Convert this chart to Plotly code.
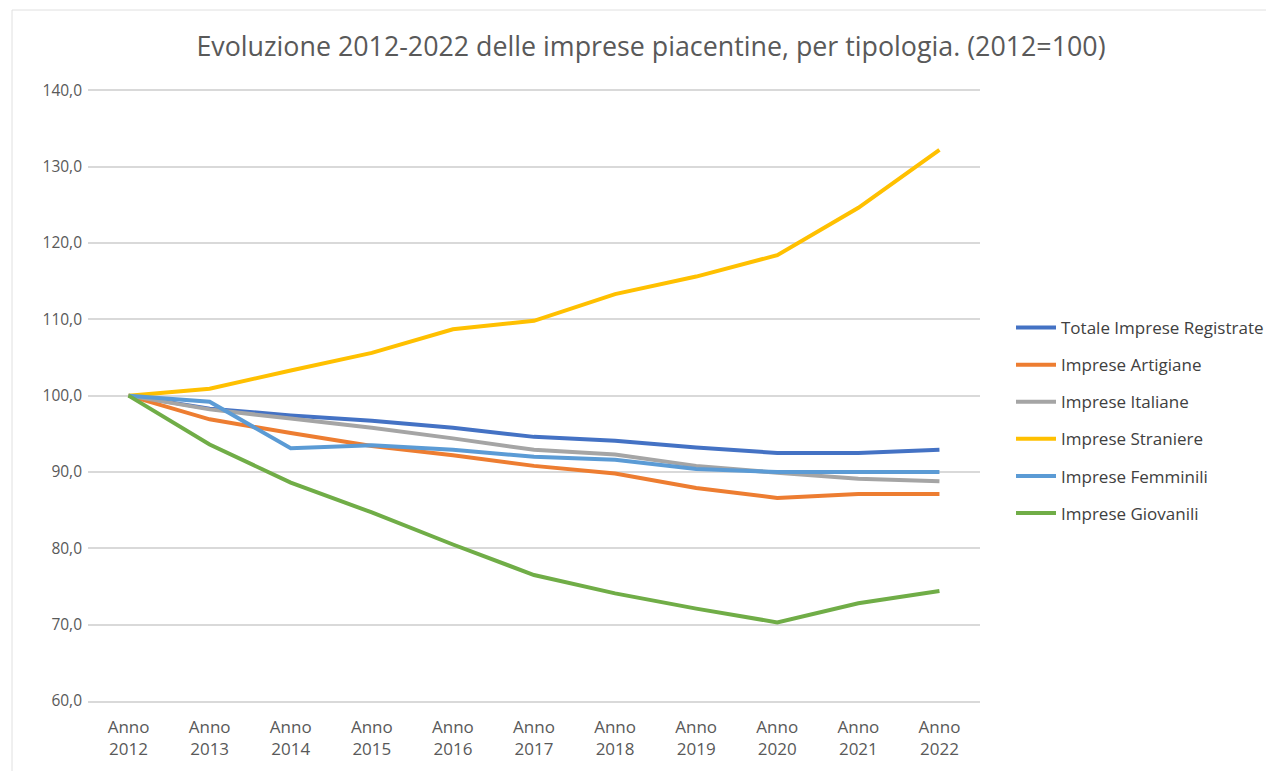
import plotly.graph_objects as go

# ── Data (2012 = 100) ─────────────────────────────────────────────────────
years = ["Anno<br>2012", "Anno<br>2013", "Anno<br>2014", "Anno<br>2015", "Anno<br>2016", "Anno<br>2017",
         "Anno<br>2018", "Anno<br>2019", "Anno<br>2020", "Anno<br>2021", "Anno<br>2022"]

totale = [100.0, 98.3, 97.4, 96.7, 95.8, 94.6, 94.1, 93.2, 92.5, 92.5, 92.9]
artigiane = [100.0, 96.9, 95.1, 93.4, 92.2, 90.8, 89.8, 87.9, 86.6, 87.1, 87.1]
italiane = [100.0, 98.2, 97.0, 95.8, 94.4, 92.9, 92.3, 90.8, 89.9, 89.1, 88.8]
straniere = [100.0, 100.9, 103.3, 105.6, 108.7, 109.8, 113.3, 115.6, 118.4, 124.6, 132.2]
femminili = [100.0, 99.2, 93.1, 93.5, 92.9, 92.0, 91.6, 90.4, 90.0, 90.0, 90.0]
giovanili = [100.0, 93.6, 88.6, 84.7, 80.5, 76.5, 74.1, 72.1, 70.3, 72.8, 74.4]

y_ticks = [60, 70, 80, 90, 100, 110, 120, 130, 140]

SERIES = [
    ("Totale Imprese Registrate", totale, "#4472C4"),
    ("Imprese Artigiane", artigiane, "#ED7D31"),
    ("Imprese Italiane", italiane, "#A5A5A5"),
    ("Imprese Straniere", straniere, "#FFC000"),
    ("Imprese Femminili", femminili, "#5B9BD5"),
    ("Imprese Giovanili", giovanili, "#70AD47"),
]

TEXT = "#595959"
GRID = "#D9D9D9"

# page body adds 8px offset; in the picture 140 sits at y=90, 60 at y=701, x spans 88..980
L, T, PW, PH = 80, 80, 892, 613

fig = go.Figure()
for i, (name, vals, color) in enumerate(SERIES):
    fig.add_trace(go.Scatter(
        x=list(range(len(years))), y=vals, name=name, mode="lines",
        line=dict(color=color, width=4), legendgroup=f"g{i}",
    ))


def px_x(p):
    return (p - 8 - L) / PW


def px_y(p):
    return (T + PH - (p - 8)) / PH


fig.update_layout(
    width=1274, height=771,
    paper_bgcolor="white", plot_bgcolor="white",
    font=dict(family="Open Sans, sans-serif", color=TEXT, size=15),
    margin=dict(l=L, r=1274 - L - PW, t=T, b=771 - T - PH),
    title=dict(text="Evoluzione 2012-2022 delle imprese piacentine, per tipologia. (2012=100)",
               x=(651 - 8) / 1274, xanchor="center", y=1 - 39 / 771, yanchor="middle",
               font=dict(size=26.8, color=TEXT)),
    showlegend=True,
    legend=dict(x=px_x(1011), y=px_y(310), xanchor="left", yanchor="top",
                font=dict(size=17, color="#404040"), tracegroupgap=12,
                itemwidth=40, bgcolor="rgba(0,0,0,0)"),
    shapes=[
        dict(type="line", xref="paper", yref="paper", x0=px_x(12), x1=px_x(1274), y0=px_y(10), y1=px_y(10),
             line=dict(color="#E0E0E0", width=1)),
        dict(type="line", xref="paper", yref="paper", x0=px_x(12), x1=px_x(12), y0=px_y(10), y1=px_y(771),
             line=dict(color="#E0E0E0", width=1)),
    ],
)

fig.update_xaxes(
    tickmode="array", tickvals=list(range(len(years))), ticktext=years,
    range=[-0.5, len(years) - 0.5], showgrid=False, zeroline=False,
    showline=True, linecolor=GRID, linewidth=1.5, ticks="",
    tickfont=dict(size=17, color=TEXT), ticklabelstandoff=10,
)
fig.update_yaxes(
    range=[60, 140.3], tickvals=y_ticks, ticktext=[f"{v},0" for v in y_ticks],
    showgrid=True, gridcolor=GRID, gridwidth=1.5, zeroline=False, showline=False,
    ticks="", tickfont=dict(size=15.5, color=TEXT), ticklabelstandoff=5,
)

fig.write_html("out.html")
